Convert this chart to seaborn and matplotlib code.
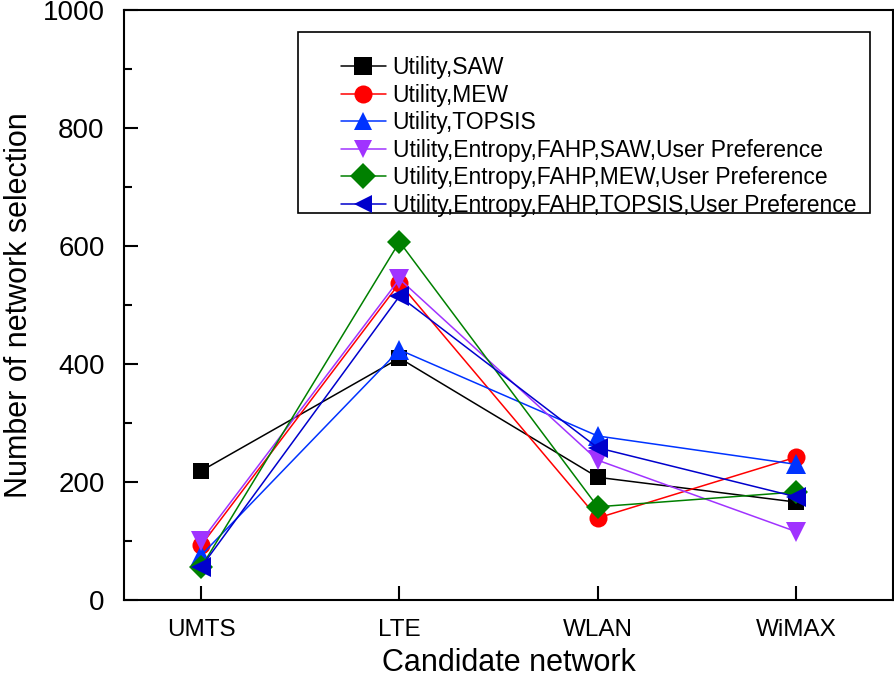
import pandas as pd
import seaborn as sns
import matplotlib.pyplot as plt
from matplotlib.patches import Rectangle
from matplotlib.ticker import MultipleLocator

# Data
networks = ["UMTS", "LTE", "WLAN", "WiMAX"]
saw = [219, 410, 208, 166]
mew = [93, 537, 139, 242]
topsis = [76, 424, 278, 230]
ef_saw = [100, 544, 237, 116]
ef_mew = [56, 607, 158, 183]
ef_topsis = [56, 515, 258, 175]

labels = ["Utility,SAW", "Utility,MEW", "Utility,TOPSIS",
          "Utility,Entropy,FAHP,SAW,User Preference",
          "Utility,Entropy,FAHP,MEW,User Preference",
          "Utility,Entropy,FAHP,TOPSIS,User Preference"]
series = [saw, mew, topsis, ef_saw, ef_mew, ef_topsis]
colors = ["#000000", "#FF0000", "#0033FF", "#A033FF", "#008000", "#0000CC"]
markers = ["s", "o", "^", "v", "D", "<"]
msizes = [12, 13, 14, 14, 12, 14]

sns.set_style("white")
plt.rcParams['font.family'] = ['Liberation Sans', 'DejaVu Sans']
plt.rcParams.update({"text.color": "black", "axes.labelcolor": "black",
                     "xtick.color": "black", "ytick.color": "black"})

fig = plt.figure(figsize=(8.95, 6.78), dpi=100)
ax = fig.add_axes([124 / 895, 1 - 600 / 678, 769 / 895, 590 / 678])

for lab, vals, c, m, ms in zip(labels, series, colors, markers, msizes):
    df = pd.DataFrame({"network": networks, "count": vals})
    sns.lineplot(data=df, x="network", y="count", ax=ax, color=c, marker=m,
                 markersize=ms, markeredgewidth=0, linewidth=1.1, label=lab,
                 sort=False)

ax.set_xlim(-0.39, 3.49)
ax.set_ylim(0, 1000)
ax.yaxis.set_major_locator(MultipleLocator(200))
ax.yaxis.set_minor_locator(MultipleLocator(100))
ax.tick_params(axis="both", which="major", direction="in", length=10,
               width=1.5, color="black", labelcolor="black",
               bottom=True, left=True)
ax.tick_params(axis="x", which="major", labelsize=17.5, pad=14)
ax.tick_params(axis="y", which="major", labelsize=20, pad=14)
ax.tick_params(axis="y", which="minor", direction="in", length=6,
               width=1.5, left=True)
ax.tick_params(axis="x", which="minor", bottom=False)
for s in ax.spines.values():
    s.set_color("black")
    s.set_linewidth(1.5)

ax.set_xlabel("Candidate network", fontsize=22, labelpad=5, color="black")
ax.set_ylabel("Number of network selection", fontsize=22, labelpad=6,
              color="black")

# legend with its own frame box
x0 = (298 - 124) / 769
x1 = (870 - 124) / 769
yt = (600 - 32) / 590
yb = (600 - 213) / 590
ax.add_patch(Rectangle((x0, yb), x1 - x0, yt - yb, transform=ax.transAxes,
                       fill=False, edgecolor="black", linewidth=1.2, zorder=5))
leg = ax.legend(loc="upper left", bbox_to_anchor=((341 - 124) / 769, (600 - 56) / 590),
                frameon=False, fontsize=16.5, borderpad=0, borderaxespad=0,
                handlelength=1.95, handletextpad=0.3, labelspacing=0.2)
for t in leg.get_texts():
    t.set_color("black")
for h in leg.legend_handles:
    h.set_markersize(13)

fig.savefig("out.png", dpi=100)
